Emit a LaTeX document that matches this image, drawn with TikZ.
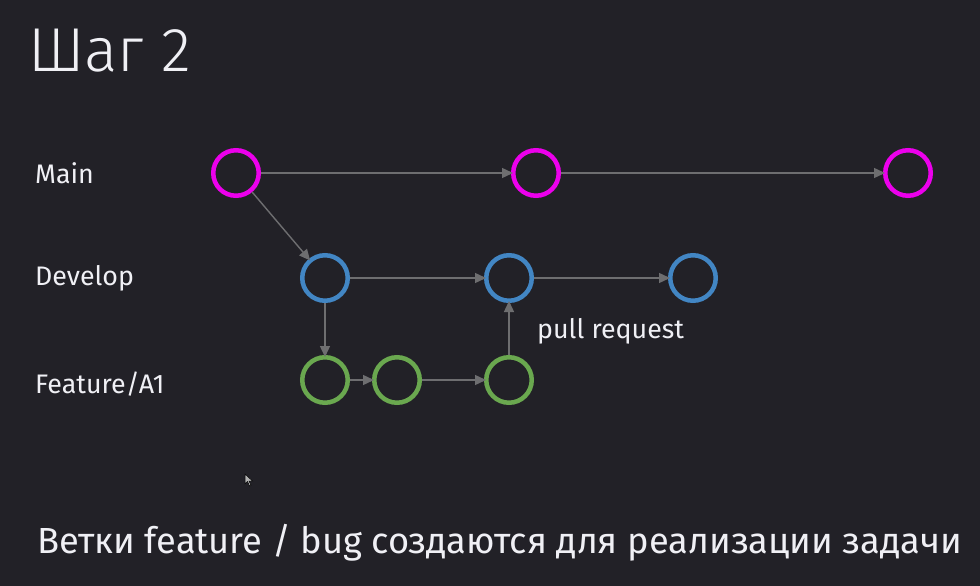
\documentclass[tikz,border=0pt]{standalone}
\usepackage{fontspec}
\setmainfont{Fira Sans}
\newfontfamily\lightfont{Fira Sans Light}
\usetikzlibrary{arrows.meta}
\definecolor{bg}{RGB}{34,33,39}
\definecolor{txt}{RGB}{240,240,245}
\definecolor{mag}{RGB}{236,0,236}
\definecolor{blu}{RGB}{66,134,196}
\definecolor{grn}{RGB}{106,168,79}
\definecolor{edge}{RGB}{110,110,112}
\tikzset{
  commit/.style={circle, draw, line width=4.5pt, minimum size=45.5pt, inner sep=0pt},
  mainc/.style={commit, draw=mag},
  devc/.style={commit, draw=blu},
  featc/.style={commit, draw=grn},
  link/.style={draw=edge, line width=1.4pt, -{Triangle[length=11pt,width=10pt]}, shorten >=-2pt},
  lbl/.style={text=txt, anchor=west, font=\fontsize{26.8}{30}\selectfont, inner sep=0pt},
}
\begin{document}
\begin{tikzpicture}[x=1pt,y=-1pt]
\fill[bg] (0,0) rectangle (980,586);
\useasboundingbox (0,0) rectangle (980,586);
\node[text=txt, anchor=base west, inner sep=0pt, font=\lightfont\fontsize{62}{68}\selectfont] (title) at (28,72) {Шаг 2};
\node[lbl] (lmain) at (35,173) {Main};
\node[lbl] (ldev) at (35,278) {Develop};
\node[lbl] (lfeat) at (35,384) {Feature/A1};
\node[mainc] (m1) at (236,173) {};
\node[mainc] (m2) at (536,173) {};
\node[mainc] (m3) at (908,173) {};
\node[devc] (d1) at (325,278) {};
\node[devc] (d2) at (509,278) {};
\node[devc] (d3) at (693,278) {};
\node[featc] (f1) at (325,380) {};
\node[featc] (f2) at (397,380) {};
\node[featc] (f3) at (509,380) {};
\draw[link] (m1) -- (m2);
\draw[link] (m2) -- (m3);
\draw[link] (m1) -- (d1);
\draw[link] (d1) -- (d2);
\draw[link] (d2) -- (d3);
\draw[link] (d1) -- (f1);
\draw[link] (f1) -- (f2);
\draw[link] (f2) -- (f3);
\draw[link] (f3) -- (d2);
\node[lbl] (pr) at (537,331) {pull request};
\node[text=txt, anchor=base west, inner sep=0pt, font=\fontsize{36.3}{42}\selectfont] (caption) at (37,553) {Ветки feature / bug создаются для реализации задачи};
\fill[gray!60, draw=black, line width=0.5pt] (245,474) -- (245,484) -- (247.5,481.5) -- (249.5,486) -- (251,485.3) -- (249,481) -- (252.5,481) -- cycle;
\end{tikzpicture}
\end{document}
